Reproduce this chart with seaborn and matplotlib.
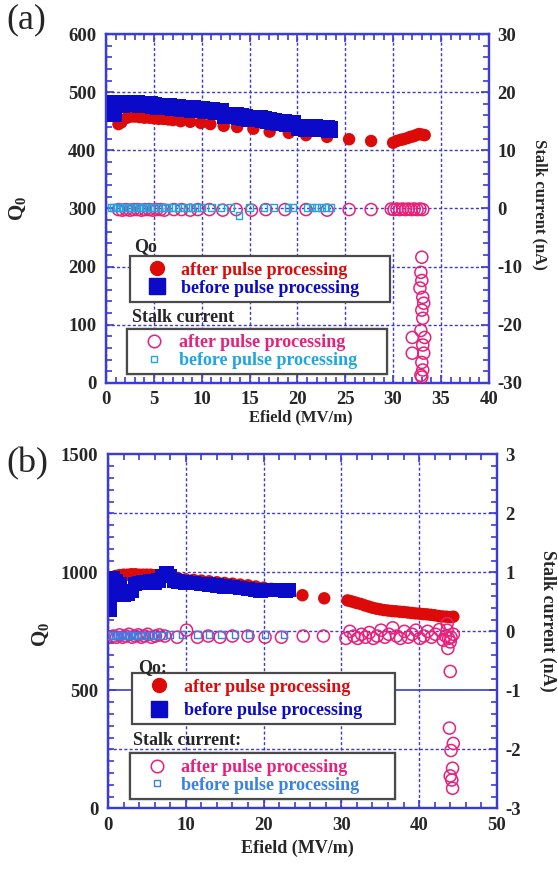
import matplotlib
matplotlib.use("Agg")
import matplotlib.pyplot as plt
from matplotlib.lines import Line2D
from matplotlib.ticker import MultipleLocator
import seaborn as sns

sns.set_style("ticks")
plt.rcParams["font.family"] = ["Liberation Serif", "DejaVu Serif"]
plt.rcParams["font.weight"] = "bold"
plt.rcParams["axes.unicode_minus"] = False
plt.rcParams["mathtext.fontset"] = "custom"
plt.rcParams["mathtext.rm"] = "Liberation Serif"
plt.rcParams["mathtext.bf"] = "Liberation Serif:bold"

# ---- panel (a) data ----
a_after_q_x = [1.3, 1.6, 2.2, 2.6, 3.0, 3.5, 4.0, 4.5, 5.0, 5.5, 6.0, 6.5, 7.0, 7.8, 8.8,
               9.9, 10.9, 12.3, 13.7, 15.4, 17.1, 19.1, 20.9, 23.1, 25.4, 27.7, 30.0, 30.4,
               30.8, 31.1, 31.5, 31.8, 32.1, 32.4, 32.7, 33.0, 33.3]
a_after_q_y = [445, 448, 456, 458, 458, 457, 456, 456, 455, 454, 454, 453, 452, 450, 449,
               447, 445, 442, 440, 437, 432, 430, 426, 423, 419, 416, 413, 416,
               418, 419, 421, 423, 424, 426, 428, 427, 426]
a_before_q_x = [0.4, 0.6, 0.8, 1.0, 1.3, 1.6, 2.0, 2.4, 2.8, 3.2, 3.6, 4.0, 4.5, 5.0, 5.5,
                6.0, 6.5, 7.0, 7.5, 8.0, 8.5, 9.0, 9.5, 10.0, 10.5, 11.0, 11.5, 12.0, 12.5,
                13.0, 13.5, 14.0, 14.5, 15.0, 15.5, 16.0, 16.5, 17.0, 17.5, 18.0, 18.5, 19.0,
                19.5, 20.2, 20.6, 21.0, 21.4, 21.8, 22.2, 22.6, 23.0, 23.4]
a_before_q_y = [478, 468, 463, 480, 479, 478, 480, 481, 480, 480, 479, 478, 478, 477, 476,
                476, 475, 474, 473, 472, 472, 471, 470, 470, 469, 468, 467, 466, 460,
                460, 459, 458, 457, 455, 455, 454, 453, 452, 450, 448, 447, 446,
                446, 440, 439, 438, 440, 439, 438, 437, 438, 436]
a_after_i_x = [1.3, 1.7, 2.1, 2.5, 2.9, 3.3, 3.7, 4.1, 4.5, 4.9, 5.3, 5.7, 6.1, 7.1, 7.9,
               8.8, 9.6, 10.8, 12.2, 13.6, 15.2, 16.7, 18.7, 20.9, 23.1, 25.4, 27.7, 29.8,
               30.1, 30.4, 30.7, 31.0, 31.3, 31.6, 31.9, 32.2, 32.5, 32.8, 33.1,
               33.0, 32.9, 33.0, 32.8, 33.1, 33.2, 33.0, 33.1, 32.9, 32.0, 33.3, 33.1,
               32.0, 33.2, 33.0, 33.1, 32.9, 33.0]
a_after_i_y = [-0.2, -0.3, -0.2, -0.3, -0.2, -0.2, -0.3, -0.2, -0.2, -0.3, -0.2, -0.2, -0.3,
               -0.2, -0.2, -0.3, -0.2, -0.2, -0.3, -0.2, -0.3, -0.2, -0.2, -0.2, -0.3, -0.2,
               -0.2, -0.1, -0.2, -0.1, -0.2, -0.1, -0.2, -0.1, -0.2, -0.1, -0.2, -0.1, -0.2,
               -8.4, -11.0, -12.4, -13.7, -15.3, -16.3, -17.5, -18.9, -21.0, -22.2, -22.2,
               -23.5, -24.9, -24.9, -26.5, -27.8, -28.7, -29.0]
a_before_i_x = [0.5, 0.8, 1.1, 1.4, 1.7, 2.0, 2.3, 2.6, 2.9, 3.2, 3.5, 3.8, 4.1, 4.4, 4.7,
                5.0, 5.4, 5.8, 6.2, 6.6, 7.0, 7.5, 8.0, 8.5, 9.0, 9.5, 10.0, 11.0, 12.0,
                13.0, 13.9, 15.0, 16.5, 17.5, 19.0, 19.5, 21.0, 21.5, 22.0, 22.5, 23.0, 23.5]
a_before_i_y = [0.2, 0.2, 0.2, 0.2, 0.2, 0.2, 0.2, 0.2, 0.2, 0.2, 0.2, 0.2, 0.2, 0.2, 0.2,
                0.2, 0.2, 0.2, 0.2, 0.2, 0.2, 0.2, 0.2, 0.2, 0.2, 0.2, 0.2, 0.2, 0.2,
                0.2, -1.2, 0.2, 0.2, 0.2, 0.2, 0.2, 0.2, 0.2, 0.2, 0.2, 0.2, 0.2]

# ---- panel (b) data ----
b_after_q_x = [0.7, 1.0, 1.5, 2.0, 2.5, 3.0, 3.5, 4.0, 4.5, 5.0, 5.5, 6.0, 6.5, 7.0, 7.5,
               8.0, 9.0, 10.0, 11.0, 12.0, 13.0, 14.0, 15.0, 16.0, 17.0, 18.0, 19.0, 20.0,
               21.0, 22.0, 23.0, 25.0, 27.8, 30.8, 31.2, 31.6, 32.0, 32.5, 33.0, 33.5, 34.0,
               34.5, 35.0, 35.5, 36.0, 36.5, 37.0, 37.5, 38.0, 38.5, 39.0, 39.5, 40.0, 40.5,
               41.0, 41.5, 42.0, 42.5, 43.0, 43.5, 44.0, 44.4]
b_after_q_y = [975, 985, 988, 990, 990, 992, 992, 990, 990, 990, 990, 988, 988, 986, 985,
               982, 975, 970, 968, 965, 962, 958, 955, 952, 948, 945, 940, 935,
               930, 928, 925, 903, 890, 881, 878, 874, 870, 866, 860, 855, 850,
               846, 843, 840, 838, 836, 835, 833, 832, 830, 828, 826, 825, 823,
               822, 820, 818, 815, 813, 812, 810, 812]
b_before_q_x = [0.2, 0.2, 0.3, 0.3, 0.4, 0.6, 1.0, 1.5, 2.0, 2.5, 3.0, 3.5, 4.0, 4.5, 5.0,
                5.5, 6.0, 6.5, 7.0, 7.5, 8.0, 8.5, 9.0, 10.0, 11.0, 12.0, 13.0, 14.0, 15.0,
                16.0, 17.0, 18.0, 19.0, 19.6, 21.3, 21.8, 22.3, 22.8, 23.3]
b_before_q_y = [840, 875, 910, 940, 965, 975, 960, 950, 905, 910, 920, 950, 955, 958, 958,
                960, 958, 965, 985, 995, 985, 965, 962, 958, 955, 950, 948, 945, 940,
                937, 933, 930, 926, 924, 925, 926, 925, 924, 925]
b_after_i_x = [0.7, 1.1, 1.5, 1.9, 2.3, 2.7, 3.1, 3.5, 3.9, 4.3, 4.7, 5.1, 5.6, 6.1, 6.6,
               7.3, 8.9, 10.1, 11.5, 12.9, 14.4, 16.0, 18.0, 20.2, 22.3, 25.1, 27.7,
               30.6, 31.1, 31.6, 32.1, 32.6, 33.1, 33.6, 34.1, 34.6, 35.1, 35.6, 36.1, 36.6,
               37.1, 37.6, 38.1, 38.6, 39.1, 39.6, 40.1, 40.6, 41.1, 41.6, 42.1, 42.6, 43.1,
               43.4, 43.6, 43.8, 44.1, 44.4, 43.6, 43.7, 44.0,
               44.0, 43.9, 44.4, 44.1, 44.3, 44.0, 44.2, 44.3]
b_after_i_y = [-0.08, -0.1, -0.06, -0.1, -0.08, -0.05, -0.1, -0.08, -0.06, -0.1, -0.08,
               -0.05, -0.1, -0.08, -0.06, -0.08, -0.1, 0.02, -0.1, -0.08, -0.1, -0.08,
               -0.08, -0.1, -0.1, -0.08, -0.08,
               -0.12, 0.0, -0.08, -0.12, -0.05, -0.1, -0.02, -0.12, -0.08, 0.02, -0.1,
               -0.05, 0.06, -0.08, -0.12, 0.0, -0.1, -0.05, 0.02, -0.12, -0.08, 0.0, -0.1,
               -0.05, 0.03, -0.15, -0.08, 0.02, -0.12, -0.1, -0.05, 0.13, -0.29, -0.18,
               -0.68, -1.64, -1.9, -2.02, -2.32, -2.45, -2.52, -2.66]
b_before_i_x = [0.3, 0.6, 0.9, 1.2, 1.5, 1.8, 2.1, 2.4, 2.7, 3.0, 3.4, 3.8, 4.2, 4.7, 5.2,
                5.7, 6.3, 7.0, 8.0, 9.5, 11.5, 13.0, 14.6, 16.3, 18.1, 20.2, 22.6]
b_before_i_y = [-0.07, -0.07, -0.07, -0.07, -0.07, -0.07, -0.07, -0.07, -0.07, -0.07,
                -0.07, -0.07, -0.07, -0.07, -0.07, -0.07, -0.07, -0.07, -0.05, -0.05,
                -0.05, -0.05, -0.05, -0.05, -0.05, -0.05, -0.05]

LEG_LABELS = ["after pulse processing", "before pulse processing"]

RED = "#dd0a0a"
BLUE = "#0a0ac8"
PINK = "#e8207a"
CYAN_A = "#1fa6e0"
CYAN_B = "#3a80e6"
FRAME = "#3b3bd6"
GRID_LS = (0, (2.2, 1.6))


def style_axes(ax, ax2, xmaj, xmin, ymaj, ymin, y2maj, y2min):
    for a in (ax, ax2):
        for sp in a.spines.values():
            sp.set_color(FRAME)
            sp.set_linewidth(1.6)
            sp.set_visible(True)
    ax.xaxis.set_major_locator(MultipleLocator(xmaj))
    ax.xaxis.set_minor_locator(MultipleLocator(xmin))
    ax.yaxis.set_major_locator(MultipleLocator(ymaj))
    ax.yaxis.set_minor_locator(MultipleLocator(ymin))
    ax2.yaxis.set_major_locator(MultipleLocator(y2maj))
    ax2.yaxis.set_minor_locator(MultipleLocator(y2min))
    ax.tick_params(axis="x", which="both", direction="in", top=True, color=FRAME,
                   labelsize=13.5, pad=6)
    ax.tick_params(axis="y", which="both", direction="in", right=False, color=FRAME,
                   labelsize=13.5, pad=7)
    ax2.tick_params(axis="y", which="both", direction="in", color=FRAME,
                    labelsize=13.5, pad=6)
    for a in (ax, ax2):
        a.tick_params(which="major", length=6, width=1.2)
        a.tick_params(which="minor", length=4, width=1.2)
        for lab in a.get_xticklabels() + a.get_yticklabels():
            lab.set_fontweight("bold")
    ax.grid(True, which="major", color=FRAME, linestyle=GRID_LS, linewidth=1.0)
    ax.set_axisbelow(True)


def set_labels(ax, ax2, fs, xpos, ypos, y2pos):
    ax.set_xlabel("Efield (MV/m)", fontsize=fs, fontweight="bold")
    ax.set_ylabel(r"$\mathbf{Q}_\mathbf{0}$", fontsize=15)
    ax2.set_ylabel("Stalk current (nA)", fontsize=fs, fontweight="bold", rotation=270)
    ax.xaxis.set_label_coords(*xpos)
    ax.yaxis.set_label_coords(*ypos)
    ax2.yaxis.set_label_coords(*y2pos)
    for lab in (ax.xaxis.label, ax.yaxis.label, ax2.yaxis.label):
        lab.set_verticalalignment("center")


def scatter(ax, x, y, marker, color, s, filled=True, lw=1.0):
    if filled:
        sns.scatterplot(x=x, y=y, ax=ax, marker=marker, color=color, s=s,
                        edgecolor="none", linewidth=0, legend=False, zorder=3)
    else:
        sns.scatterplot(x=x, y=y, ax=ax, marker=marker, color=color, s=s,
                        facecolor="none", edgecolor=color, linewidth=lw,
                        legend=False, zorder=3)


def add_legend(ax, fig, handles, colors, x0, top, width, spacing):
    leg = ax.legend(handles, LEG_LABELS, loc="upper left",
                    bbox_to_anchor=(x0, top - 0.2, width, 0.2), mode="expand",
                    bbox_transform=fig.transFigure, frameon=True, fancybox=False,
                    edgecolor="#4a4a4a", framealpha=1.0, borderpad=0.3,
                    handlelength=2.4, handletextpad=0.15, labelspacing=spacing,
                    borderaxespad=0, prop={"weight": "bold", "size": 13},
                    labelcolor=colors)
    leg.get_frame().set_linewidth(1.6)
    leg.set_zorder(10)
    ax.add_artist(leg)
    return leg


fig = plt.figure(figsize=(5.58, 8.72), dpi=100)

# ---------------- (a) ----------------
axa = fig.add_axes([0.190, 0.561, 0.686, 0.400])
axa2 = axa.twinx()
scatter(axa, a_after_q_x, a_after_q_y, "o", RED, 80)
scatter(axa, a_before_q_x, a_before_q_y, "s", BLUE, 150)
scatter(axa2, a_after_i_x, a_after_i_y, "o", PINK, 75, filled=False, lw=1.1)
scatter(axa2, a_before_i_x, a_before_i_y, "s", CYAN_A, 22, filled=False, lw=1.0)
axa.set_xlim(0, 40)
axa.set_ylim(0, 600)
axa2.set_ylim(-30, 30)
style_axes(axa, axa2, 5, 1, 100, 20, 10, 2)
set_labels(axa, axa2, 12, (0.509, -0.10), (-0.23, 0.50), (1.133, 0.51))

fig.text(0.012, 0.977, "(a)", fontsize=26, fontweight="normal", va="center")
fig.text(0.240, 0.717, "Qo", fontsize=13, fontweight="bold", va="center")
fig.text(0.237, 0.636, "Stalk current", fontsize=13, fontweight="bold", va="center")
h1 = [Line2D([], [], marker="o", ls="", color=RED, ms=10),
      Line2D([], [], marker="s", ls="", color=BLUE, ms=11)]
add_legend(axa2, fig, h1, [RED, BLUE], 0.233, 0.706, 0.466, 0.05)
h2 = [Line2D([], [], marker="o", ls="", mfc="none", mec=PINK, ms=9, mew=1.1),
      Line2D([], [], marker="s", ls="", mfc="none", mec=CYAN_A, ms=5, mew=1.0)]
add_legend(axa2, fig, h2, [PINK, CYAN_A], 0.228, 0.623, 0.466, 0.05)

# ---------------- (b) ----------------
axb = fig.add_axes([0.1935, 0.073, 0.697, 0.406])
axb2 = axb.twinx()
scatter(axb, b_after_q_x, b_after_q_y, "o", RED, 80)
scatter(axb, b_before_q_x, b_before_q_y, "s", BLUE, 110)
scatter(axb2, b_after_i_x, b_after_i_y, "o", PINK, 75, filled=False, lw=1.1)
scatter(axb2, b_before_i_x, b_before_i_y, "s", CYAN_B, 22, filled=False, lw=1.0)
axb.set_xlim(0, 50)
axb.set_ylim(0, 1500)
axb2.set_ylim(-3, 3)
style_axes(axb, axb2, 10, 2, 250, 50, 1, 0.2)
axb.set_yticks([0, 500, 1000, 1500])
axb.yaxis.set_minor_locator(MultipleLocator(50))
axb.grid(False, axis="y")
for yv in [250, 750, 1000, 1250]:
    axb.axhline(yv, color=FRAME, linestyle=GRID_LS, linewidth=1.0, zorder=0)
axb.axhline(500, color=FRAME, linestyle="-", linewidth=1.2, zorder=0)
set_labels(axb, axb2, 13, (0.488, -0.113), (-0.17, 0.49), (1.131, 0.53))

fig.text(0.012, 0.468, "(b)", fontsize=26, fontweight="normal", va="center")
fig.text(0.247, 0.235, "Qo:", fontsize=13, fontweight="bold", va="center")
fig.text(0.238, 0.151, "Stalk current:", fontsize=13, fontweight="bold", va="center")
h3 = [Line2D([], [], marker="o", ls="", color=RED, ms=10),
      Line2D([], [], marker="s", ls="", color=BLUE, ms=11)]
add_legend(axb2, fig, h3, [RED, BLUE], 0.237, 0.228, 0.471, 0.35)
h4 = [Line2D([], [], marker="o", ls="", mfc="none", mec=PINK, ms=9, mew=1.1),
      Line2D([], [], marker="s", ls="", mfc="none", mec=CYAN_B, ms=5, mew=1.0)]
add_legend(axb2, fig, h4, [PINK, CYAN_B], 0.233, 0.136, 0.475, 0.05)

fig.savefig("out.png", dpi=100)
